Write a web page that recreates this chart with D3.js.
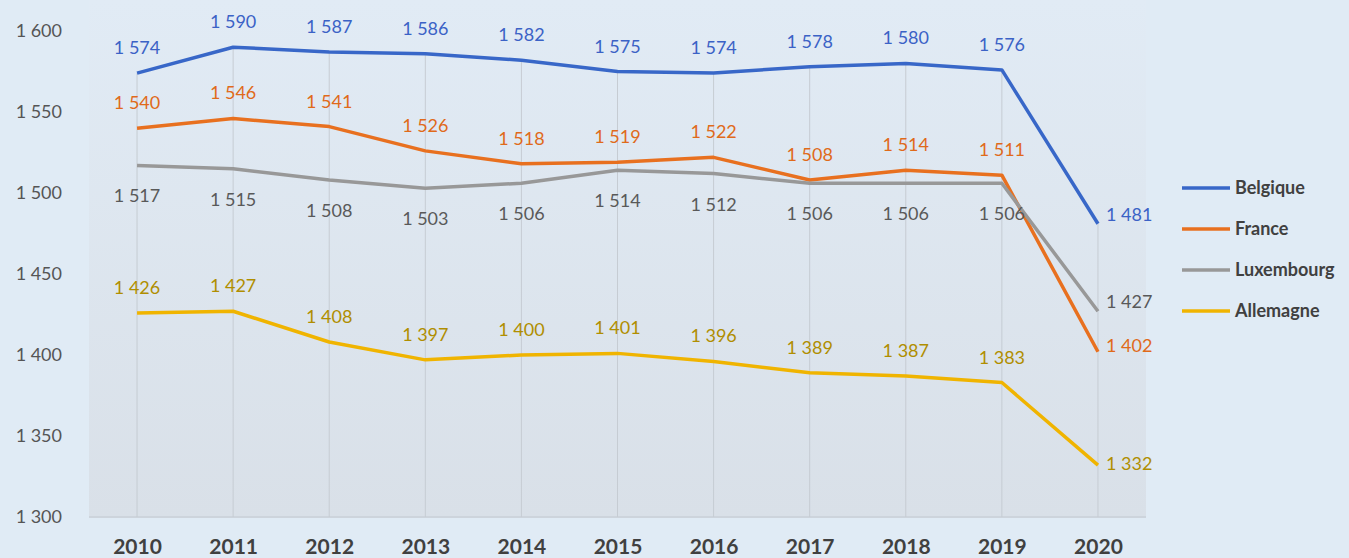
<!DOCTYPE html>
<html>
<head>
<meta charset="utf-8">
<script src="https://cdn.jsdelivr.net/npm/d3@7"></script>
<style>
  body { margin: 0; background: #e0ebf5; }
  svg { display: block; font-family: Lato, "Open Sans", sans-serif; }
</style>
</head>
<body>
<svg id="chart"></svg>
<script>
var years = ["2010", "2011", "2012", "2013", "2014", "2015", "2016", "2017", "2018", "2019", "2020"];
var belgique = [1574, 1590, 1587, 1586, 1582, 1575, 1574, 1578, 1580, 1576, 1481];
var france = [1540, 1546, 1541, 1526, 1518, 1519, 1522, 1508, 1514, 1511, 1402];
var luxembourg = [1517, 1515, 1508, 1503, 1506, 1514, 1512, 1506, 1506, 1506, 1427];
var allemagne = [1426, 1427, 1408, 1397, 1400, 1401, 1396, 1389, 1387, 1383, 1332];
var seriesNames = ["Belgique", "France", "Luxembourg", "Allemagne"];
var yTicks = [1300, 1350, 1400, 1450, 1500, 1550, 1600];

var W = 1349, H = 558;
var margin = { top: 31, right: 203, bottom: 41, left: 89 };

var series = [
  { name: "Belgique", values: belgique, line: "#3867c8", text: "#3b62c6", pos: "above", end: -3 },
  { name: "France", values: france, line: "#e8701f", text: "#e06a1a", pos: "above", end: 0 },
  { name: "Luxembourg", values: luxembourg, line: "#989898", text: "#595959", pos: "below", end: -3 },
  { name: "Allemagne", values: allemagne, line: "#f0b400", text: "#b08e00", pos: "above", end: 5 }
];

var svg = d3.select("#chart").attr("width", W).attr("height", H);

var defs = svg.append("defs");
var grad = defs.append("linearGradient").attr("id", "plotbg")
  .attr("x1", 0).attr("y1", 0).attr("x2", 0).attr("y2", 1);
grad.append("stop").attr("offset", "0%").attr("stop-color", "#e1ebf5");
grad.append("stop").attr("offset", "100%").attr("stop-color", "#d9e0e8");

var x = d3.scalePoint().domain(years)
  .range([margin.left, W - margin.right]).padding(0.5);
var y = d3.scaleLinear().domain([1300, 1600])
  .range([H - margin.bottom, margin.top]);

var bottom = y(1300);

// plot area
svg.append("rect")
  .attr("x", margin.left).attr("y", 0)
  .attr("width", W - margin.right - margin.left)
  .attr("height", bottom)
  .attr("fill", "url(#plotbg)");
svg.append("line")
  .attr("x1", margin.left).attr("x2", W - margin.right)
  .attr("y1", bottom).attr("y2", bottom)
  .attr("stroke", "#cdd4dc").attr("stroke-width", 2);

// vertical drop lines
svg.selectAll(".vgrid")
  .data(years)
  .join("line")
  .attr("class", "vgrid")
  .attr("x1", d => x(d)).attr("x2", d => x(d))
  .attr("y1", (d, i) => y(d3.max(series, s => s.values[i])))
  .attr("y2", bottom)
  .attr("stroke", "#c6ccd3").attr("stroke-width", 1);

// y axis labels
var yAxis = svg.append("g")
  .attr("transform", `translate(${margin.left - 27},0)`)
  .call(d3.axisLeft(y).tickValues(yTicks).tickSize(0).tickPadding(0)
    .tickFormat(d => d3.format(",")(d).replace(",", " ")));
yAxis.select(".domain").remove();
yAxis.selectAll("text")
  .style("font-family", "Lato, 'Open Sans', sans-serif")
  .style("font-size", "18px").attr("fill", "#555");

// x axis labels
var xAxis = svg.append("g")
  .attr("transform", `translate(0,${bottom})`)
  .call(d3.axisBottom(x).tickSize(0).tickPadding(22));
xAxis.select(".domain").remove();
xAxis.selectAll("text")
  .style("font-family", "Lato, 'Open Sans', sans-serif")
  .style("font-size", "21px").style("font-weight", "bold")
  .attr("fill", "#404040");

var fmt = v => d3.format(",")(v).replace(",", " ");
var line = d3.line().x((d, i) => x(years[i])).y(d => y(d));

series.forEach(function (s) {
  svg.append("path")
    .datum(s.values)
    .attr("d", line)
    .attr("fill", "none")
    .attr("stroke", s.line)
    .attr("stroke-width", 3.5)
    .attr("stroke-linejoin", "round");
});

series.forEach(function (s) {
  svg.selectAll(".lbl-" + s.name)
    .data(s.values)
    .join("text")
    .attr("class", "lbl-" + s.name)
    .attr("x", (d, i) => i === years.length - 1 ? x(years[i]) + 8 : x(years[i]))
    .attr("y", (d, i) => {
      if (i === years.length - 1) return y(d) + s.end;
      return s.pos === "above" ? y(d) - 19 : y(d) + 37;
    })
    .attr("text-anchor", (d, i) => i === years.length - 1 ? "start" : "middle")
    .style("font-size", "18px")
    .attr("fill", s.text)
    .text(d => fmt(d));
});

// legend
var legend = svg.append("g").attr("transform", "translate(1182,188)");
series.forEach(function (s, i) {
  var g = legend.append("g").attr("transform", `translate(0,${i * 41})`);
  g.append("line").attr("x1", 0).attr("x2", 48)
    .attr("stroke", s.line).attr("stroke-width", 3.5);
  g.append("text").attr("x", 53).attr("dy", "0.35em")
    .style("font-size", "18px").style("font-weight", "bold")
    .attr("fill", "#404040").text(seriesNames[i]);
});
</script>
</body>
</html>
